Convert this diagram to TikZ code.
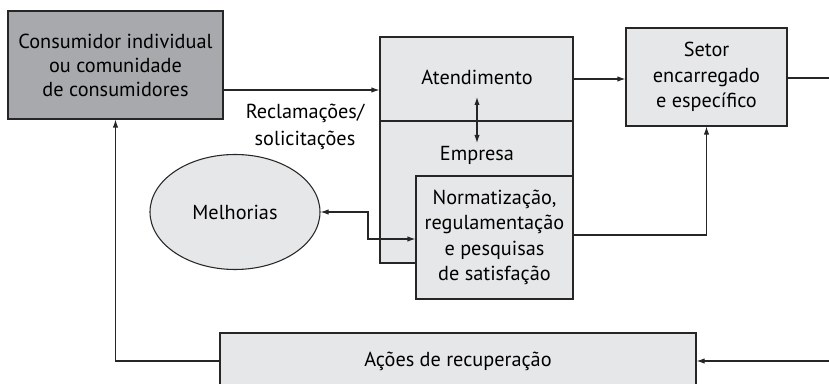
\documentclass[tikz,border=0pt]{standalone}
\usepackage{fontspec}
\setmainfont{PT Sans}
\usetikzlibrary{arrows.meta,shapes.geometric}
\definecolor{lgray}{HTML}{E6E7E8}
\definecolor{dgray}{HTML}{A7A9AC}
\begin{document}
\begin{tikzpicture}[x=0.75pt,y=-0.75pt,
  every node/.style={font=\fontsize{15.2}{19}\selectfont, align=center, inner sep=0pt},
  box/.style={draw=black!85, line width=0.8pt, fill=lgray, rectangle},
  lbl/.style={},
  conn/.style={draw=black!85, line width=0.8pt},
  arr/.style={conn, -{Latex[length=6pt,width=4pt]}},
  darr/.style={conn, {Latex[length=6pt,width=4pt]}-{Latex[length=6pt,width=4pt]}}]
\useasboundingbox (0,0) rectangle (829,384);
% nodes
\node[box, fill=dgray, minimum width=215*0.75pt, minimum height=108*0.75pt,
  font=\fontsize{15.2}{18}\selectfont] (cons) at (115.5,65)
  {Consumidor individual\\ou comunidade\\de consumidores};
\node[box, minimum width=193*0.75pt, minimum height=226*0.75pt] (emp) at (476.5,150) {};
\node[lbl] (atend) at (477,77) {Atendimento};
\node[lbl] (emplbl) at (477,155) {Empresa};
\coordinate (atbot) at (477,97);
\coordinate (emptop) at (477,143);
\draw[conn] (emp.west |- 0,121) -- (emp.east |- 0,121);
\node[box, minimum width=157*0.75pt, minimum height=123*0.75pt] (norm) at (494.5,237.5)
  {Normatização,\\regulamentação\\e pesquisas\\de satisfação};
\node[box, minimum width=161*0.75pt, minimum height=98*0.75pt] (setor) at (706.5,77)
  {Setor\\encarregado\\e específico};
\node[box, ellipse, minimum width=170*0.75pt, minimum height=115*0.75pt] (mel) at (235,212) {Melhorias};
\node[box, minimum width=476*0.75pt, minimum height=56*0.75pt] (acoes) at (458,361) {Ações de recuperação};
\node[lbl, font=\fontsize{15.2}{20}\selectfont] (recl) at (305,127) {Reclamações/\\solicitações};
% free ends
\coordinate (outR) at (829,78);
\coordinate (inR) at (829,361);
% connectors
\draw[arr] (cons.east |- 0,90) -- (emp.west |- 0,90);
\draw[arr] (emp.east |- 0,79) -- (setor.west |- 0,79);
\draw[conn] (setor.east |- outR) -- (outR);
\draw[darr] (atbot) -- (emptop);
\draw[arr] (norm.east |- 0,235) -| (setor.south);
\draw[darr] (mel.east) -- (368,212) |- (norm.west |- 0,239);
\draw[arr] (inR) -- (acoes.east);
\draw[arr] (acoes.west) -| (cons.south);
\end{tikzpicture}
\end{document}
